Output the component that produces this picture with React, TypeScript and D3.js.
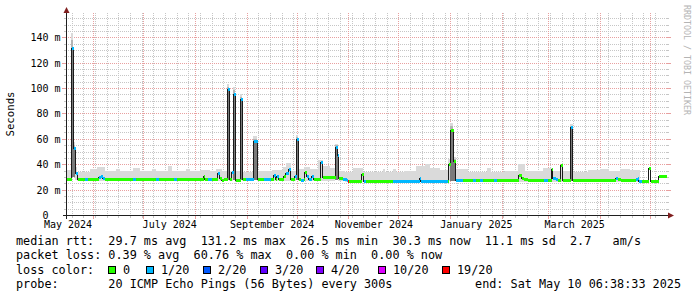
import React from 'react';
import * as d3 from 'd3';

// ---- time frame (graph covers the last 360 days) ----
const GRAPH_END = Date.UTC(2025, 4, 10, 6, 38, 33);
const GRAPH_DAYS = 360;
const DAY = 86400000;
const GRAPH_START = GRAPH_END - GRAPH_DAYS * DAY;

// ---- median rtt, step series (days since graph start, ms, loss bucket index) ----
const medianDay = [0, 3.3, 4.5, 5.7, 6.9, 10.8, 12.6, 19.2, 20.4, 21.9, 23.1, 39.6, 41.4, 53.4, 55.2, 64.2, 66.0,
  82.2, 83.1, 84.6, 87.3, 90.6, 91.8, 93.0, 94.5, 96.9, 97.8, 99.3, 100.5, 101.7, 104.4, 105.6, 108.0, 112.5, 114.9,
  118.2, 122.4, 124.2, 125.4, 126.3, 127.2, 130.2, 131.7, 133.2, 134.7, 136.8, 138.3, 139.5, 140.4, 142.2, 142.8,
  144.0, 145.2, 147.0, 148.5, 152.4, 154.0, 161.4, 162.9, 163.6, 165.6, 168.0, 168.9, 169.6, 177.4, 178.2, 179.4,
  195.6, 212.1, 212.7, 228.6, 229.2, 230.7, 232.4, 233.9, 238.2, 243.6, 245.4, 248.4, 250.2, 256.2, 258.0, 271.5,
  273.3, 274.2, 276.6, 286.2, 288.6, 291.4, 292.2, 293.7, 294.6, 296.4, 298.0, 302.4, 304.0, 329.4, 330.6, 332.4,
  341.4, 342.6, 343.5, 345.0, 349.4, 350.6, 355.4];
const medianMs = [28.6, 131.5, 52.5, 33, 28.4, 28.4, 28.4, 30, 31, 29.5, 28.4, 28.4, 28.4, 28.4, 28.4, 28.4, 28.4,
  31, 28.4, 28.0, 28.4, 33, 29.5, 27.5, 28.4, 99, 28.4, 34, 95.4, 27.5, 91, 28.4, 28.4, 58, 28.4,
  28.4, 28.4, 31.5, 28.4, 31, 28.4, 30.5, 33, 36.5, 28.4, 31, 60, 28.4, 27.5, 28.4, 33.5,
  30.5, 28, 31, 28.4, 42, 29.8, 53.5, 47.5, 29, 28.4, 27.5, 26.8, 26.6, 32, 26.6, 26.6,
  27.0, 29, 27.0, 27.0, 40, 66.8, 42.4, 27.2, 27.2, 27.2, 27.2, 27.2, 27.2, 27.2, 27.2, 31.5,
  29.5, 28.5, 27.2, 27.2, 27.2, 36.5, 29.5, 28, 27.2, 39, 27.2, 69, 27.2, 29.5, 28.5, 27.2,
  28, 29.5, 27, 26.8, 37.2, 26.6, 30.4];
const medianLoss = [0, 1, 1, 1, 0, 1, 0, 1, 1, 1, 0, 1, 0, 1, 0, 1, 0,
  0, 0, 1, 0, 1, 0, 0, 0, 1, 0, 1, 1, 0, 1, 0, 1, 1, 0,
  1, 0, 1, 0, 1, 0, 0, 1, 1, 0, 1, 1, 0, 1, 0, 0,
  1, 1, 1, 0, 1, 0, 1, 1, 0, 1, 1, 6, 0, 0, 1, 0,
  1, 1, 1, 0, 0, 0, 0, 1, 0, 1, 0, 1, 0, 1, 0, 0,
  0, 0, 0, 1, 0, 0, 1, 1, 0, 0, 0, 1, 0, 1, 0, 0,
  1, 1, 1, 0, 0, 0, 0];

// ---- smoke (ping spread), step series (days since graph start, min ms, max ms) ----
const smokeDay = [0, 3.3, 4.5, 5.7, 6.9, 14.4, 18.6, 23.4, 30.0, 32.4, 40.2, 44.4, 51.6, 54.0, 61.2, 63.6, 72.0,
  74.4, 80.4, 86.4, 90.0, 93.6, 96.9, 97.8, 100.5, 101.7, 104.4, 105.6, 112.5, 114.9, 123.6, 130.2, 132.0, 135.0,
  138.3, 139.5, 143.4, 146.4, 151.2, 154.2, 158.4, 161.4, 163.6, 167.4, 172.2, 178.2, 190.2, 191.4, 196.2, 198.0,
  203.4, 210.6, 215.4, 218.4, 224.4, 229.2, 230.7, 232.4, 234.0, 236.4, 241.2, 252.6, 255.6, 263.4, 271.2, 275.4,
  286.2, 292.2, 296.4, 298.2, 302.4, 304.2, 313.2, 320.4, 326.4, 332.4, 338.4, 344.4];
const smokeMinMs = [27.5, 30, 30, 28, 27.5, 27.5, 27.5, 27.5, 27.5, 27.5, 27.5, 27.5, 27.5, 27.5, 27.5, 27.5, 27.5,
  27.5, 27.5, 27.5, 27.5, 27.5, 28, 27.5, 28, 27.5, 28, 27.5, 28, 27.5, 27.5, 27.5, 27.5, 27.5,
  28, 27.5, 27.5, 27.5, 27.5, 27.5, 27.5, 28, 27.5, 26.2, 26.2, 26.2, 26.2, 26.2, 26.2, 26.2,
  26.2, 26.2, 26.2, 26.2, 26.2, 27, 27, 27, 26.2, 26.2, 26.2, 26.2, 26.2, 26.2, 26.2, 26.2,
  26.2, 26.2, 26.2, 26.2, 27, 26.2, 26.2, 26.2, 26.2, 26.2, 26.2, null];
const smokeMaxMs = [35.3, 143.5, 57.5, 38, 34, 36, 37.5, 34.5, 36, 34.5, 37, 34.5, 36, 34.5, 38.4, 34.5, 36,
  34.5, 35.3, 34.5, 36.5, 34.5, 103, 34.5, 101, 34.5, 95, 33.7, 62, 34.5, 35.3, 38, 41, 34.5,
  63, 36.4, 38, 36, 43.7, 38.5, 37.2, 56, 34.5, 33.7, 37, 33.7, 36.4, 33.7, 36.4, 33.7,
  34.5, 38.4, 40, 37, 35.5, 44, 72.6, 46, 36, 36.5, 33.7, 37.2, 34, 35, 39.8, 35,
  37.2, 35, 39, 34.5, 71.5, 34, 35.5, 36.5, 35, 36, 35.3, null];

// ---- axes ----
const yTickValues = [0, 20, 40, 60, 80, 100, 120, 140];
const yTickLabels = ['  0  ', ' 20 m', ' 40 m', ' 60 m', ' 80 m', '100 m', '120 m', '140 m'];
const xTickMonths = ['2024-05', '2024-07', '2024-09', '2024-11', '2025-01', '2025-03'];
const xTickLabels = ['May 2024', 'July 2024', 'September 2024', 'November 2024', 'January 2025', 'March 2025'];

// ---- legend ----
const lossLabels = ['0', '1/20', '2/20', '3/20', '4/20', '10/20', '19/20'];
const lossColors = ['#26ff00', '#00b8ff', '#0059ff', '#5e00ff', '#7e00ff', '#dd00ff', '#ff0000'];
const rttStats = ['29.7', '131.2', '26.5', '30.3', '11.1'];
const amPerSec = '2.7';
const lossStats = ['0.39', '60.76', '0.00', '0.00'];
const probeText = '20 ICMP Echo Pings (56 Bytes) every 300s';
const endText = 'Sat May 10 06:38:33 2025';

const MONO = '"DejaVu Sans Mono", monospace';
const PRE: React.CSSProperties = { whiteSpace: 'pre' };

type SmokePt = { t: number; lo: number; hi: number };

export default function App() {
  const W = 697, H = 297;
  const x = d3.scaleUtc()
    .domain([new Date(GRAPH_START), new Date(GRAPH_END)])
    .range([66, 666]);
  const y = d3.scaleLinear().domain([0, 160]).range([215.5, 12.3]);
  const px = (v: number) => Math.floor(v) + 0.5;
  const tAt = (d: number) => new Date(GRAPH_START + d * DAY);
  const X0 = 66, X1 = 667, Y0 = 215.5, YTOP = 12.5;
  const medianAt = (t: number) => medianMs[Math.max(0, d3.bisectRight(medianDay, t + 1e-6) - 1)];

  // grid
  const minorY = d3.range(5, 160, 5).filter(v => v % 20 !== 0);
  const majorY = yTickValues.filter(v => v > 0);
  const weeks = d3.utcSunday.range(new Date(GRAPH_START), new Date(GRAPH_END));
  const months = d3.utcMonth.range(new Date(GRAPH_START), new Date(GRAPH_END));
  const gridMinor = '#c6c6c6';
  const gridMajor = '#e8a0a0';

  // smoke polygons (step): light band; towering columns get denser smoke
  const smokePts: SmokePt[] = [];
  const denseRuns: SmokePt[][] = [];
  const upperRuns: SmokePt[][] = [];
  for (let i = 0; i < smokeDay.length - 1; i++) {
    const hi = smokeMaxMs[i], lo = smokeMinMs[i];
    if (hi == null || lo == null) continue;
    smokePts.push({ t: smokeDay[i], lo, hi });
    smokePts.push({ t: smokeDay[i + 1], lo, hi });
    if (hi > 45) {
      const med = medianAt(smokeDay[i]);
      denseRuns.push([{ t: smokeDay[i], lo, hi: med }, { t: smokeDay[i + 1], lo, hi: med }]);
      const mid = med + (hi - med) * 0.5;
      upperRuns.push([{ t: smokeDay[i], lo: med, hi: mid }, { t: smokeDay[i + 1], lo: med, hi: mid }]);
    }
  }
  const smokeArea = d3.area<SmokePt>()
    .x(d => px(x(tAt(d.t))) - 0.5)
    .y0(d => y(d.lo))
    .y1(d => Math.floor(y(d.hi)));

  // median step line
  const medPts: [number, number][] = [];
  medianDay.forEach((d, i) => {
    const next = i < medianDay.length - 1 ? medianDay[i + 1] : GRAPH_DAYS;
    const yy = px(y(medianMs[i]));
    medPts.push([px(x(tAt(d))), yy]);
    medPts.push([px(x(tAt(next))), yy]);
  });
  const medLine = d3.line<[number, number]>().x(d => d[0]).y(d => d[1]);

  const segs = medianDay.map((d, i) => {
    const next = i < medianDay.length - 1 ? medianDay[i + 1] : GRAPH_DAYS;
    return {
      x1: px(x(tAt(d))), x2: px(x(tAt(next))),
      yy: px(y(medianMs[i])), c: lossColors[medianLoss[i]],
    };
  });

  const line1 = `median rtt:  ${rttStats[0]} ms avg  ${rttStats[1]} ms max  ${rttStats[2]} ms min  ${rttStats[3]} ms now  ${rttStats[4]} ms sd  ${amPerSec}   am/s`;
  const line2 = `packet loss: ${lossStats[0]} % avg  ${lossStats[1]} % max  ${lossStats[2]} % min  ${lossStats[3]} % now`;
  const line4 = `probe:       ${probeText}`;
  const boxX = [108.5, 146.5, 203.5, 260.5, 316.5, 378.5, 442.5];
  const LF = 11.8;

  return (
    <svg width={W} height={H} viewBox={`0 0 ${W} ${H}`}
      style={{ position: 'absolute', left: 0, top: 0, display: 'block', background: '#fff' }}>
      <rect x={0} y={0} width={W} height={H} fill="#ffffff" />

      {/* minor grid */}
      <g stroke={gridMinor} strokeWidth={1} shapeRendering="crispEdges">
        {minorY.map(v => (
          <g key={'hy' + v}>
            <line x1={X0} x2={X1} y1={px(y(v))} y2={px(y(v))} strokeDasharray="1,1" />
            <line x1={X0 - 2} x2={X0} y1={px(y(v))} y2={px(y(v))} />
            <line x1={X1} x2={X1 + 2} y1={px(y(v))} y2={px(y(v))} />
          </g>
        ))}
        {weeks.map(w => (
          <g key={'vw' + +w}>
            <line x1={px(x(w))} x2={px(x(w))} y1={Y0} y2={YTOP} strokeDasharray="1,1" />
            <line x1={px(x(w))} x2={px(x(w))} y1={Y0} y2={Y0 + 2.5} />
          </g>
        ))}
      </g>
      {/* major grid */}
      <g stroke={gridMajor} strokeWidth={1} shapeRendering="crispEdges">
        {majorY.map(v => (
          <g key={'my' + v}>
            <line x1={X0} x2={X1} y1={px(y(v))} y2={px(y(v))} strokeDasharray="1,1" />
            <line x1={X0 - 4} x2={X0} y1={px(y(v))} y2={px(y(v))} />
            <line x1={X1} x2={X1 + 4} y1={px(y(v))} y2={px(y(v))} />
          </g>
        ))}
        {months.map(m => (
          <g key={'mm' + +m}>
            <line x1={px(x(m))} x2={px(x(m))} y1={Y0} y2={YTOP} strokeDasharray="1,1" />
            <line x1={px(x(m))} x2={px(x(m))} y1={Y0} y2={Y0 + 3.5} />
          </g>
        ))}
      </g>

      {/* smoke */}
      <path d={smokeArea(smokePts) || ''} fill="#dadada" stroke="none" shapeRendering="crispEdges" />
      {upperRuns.map((r, i) => (
        <path key={'up' + i} d={smokeArea(r) || ''} fill="#b4b4b4" stroke="none" shapeRendering="crispEdges" />
      ))}
      {denseRuns.map((r, i) => (
        <path key={'dn' + i} d={smokeArea(r) || ''} fill="#7a7a7a" stroke="none" shapeRendering="crispEdges" />
      ))}

      {/* median */}
      <path d={medLine(medPts) || ''} fill="none" stroke="#1a1a1a" strokeWidth={1} shapeRendering="crispEdges" />
      <g strokeWidth={3} shapeRendering="crispEdges">
        {segs.map((s, i) => (
          <line key={'s' + i} x1={s.x1} x2={s.x2} y1={s.yy} y2={s.yy} stroke={s.c} />
        ))}
      </g>

      {/* axes */}
      <g stroke="#1f1f1f" strokeWidth={1} shapeRendering="crispEdges">
        <line x1={X0 - 3} x2={669} y1={Y0} y2={Y0} />
        <line x1={66.5} x2={66.5} y1={Y0 + 3} y2={12} />
      </g>
      <path d="M668,212.5 L674,215.5 L668,218.5 Z" fill="#801f1f" />
      <path d="M63.5,13 L66.5,7 L69.5,13 Z" fill="#801f1f" />

      {/* tick labels */}
      <g fontFamily={MONO} fontSize={10} fill="#000">
        {yTickValues.map((v, i) => (
          <text key={'yl' + v} x={30.5} y={px(y(v)) + 3.6} xmlSpace="preserve" style={PRE}>{yTickLabels[i]}</text>
        ))}
        {xTickMonths.map((m, i) => {
          const a = new Date(m + '-01T00:00:00Z');
          const b = d3.utcMonth.offset(a, 1);
          const cx = (x(a) + x(b)) / 2;
          return <text key={'xl' + m} x={cx} y={228.3} textAnchor="middle">{xTickLabels[i]}</text>;
        })}
      </g>
      <text transform="translate(14,114) rotate(-90)" textAnchor="middle" fontFamily={MONO} fontSize={10.7} fill="#000">Seconds</text>
      <text transform="translate(683.5,5) rotate(90)" fontFamily={MONO} fontSize={8.3} fill="#b4b4b4">RRDTOOL / TOBI OETIKER</text>

      {/* legend */}
      <g fontFamily={MONO} fontSize={LF} fill="#000">
        <text x={16} y={244.5} xmlSpace="preserve" style={PRE}>{line1}</text>
        <text x={16} y={259} xmlSpace="preserve" style={PRE}>{line2}</text>
        <text x={16} y={273.5}>loss color:</text>
        {lossLabels.map((l, i) => (
          <g key={'lg' + l}>
            <rect x={boxX[i]} y={266} width={7} height={7} fill={lossColors[i]} stroke="#000" strokeWidth={1} shapeRendering="crispEdges" />
            <text x={boxX[i] + 14.5} y={273.5}>{l}</text>
          </g>
        ))}
        <text x={16} y={288} xmlSpace="preserve" style={PRE}>{line4}</text>
        <text x={681} y={288} textAnchor="end" xmlSpace="preserve" style={PRE}>{`end: ${endText}`}</text>
      </g>
    </svg>
  );
}
